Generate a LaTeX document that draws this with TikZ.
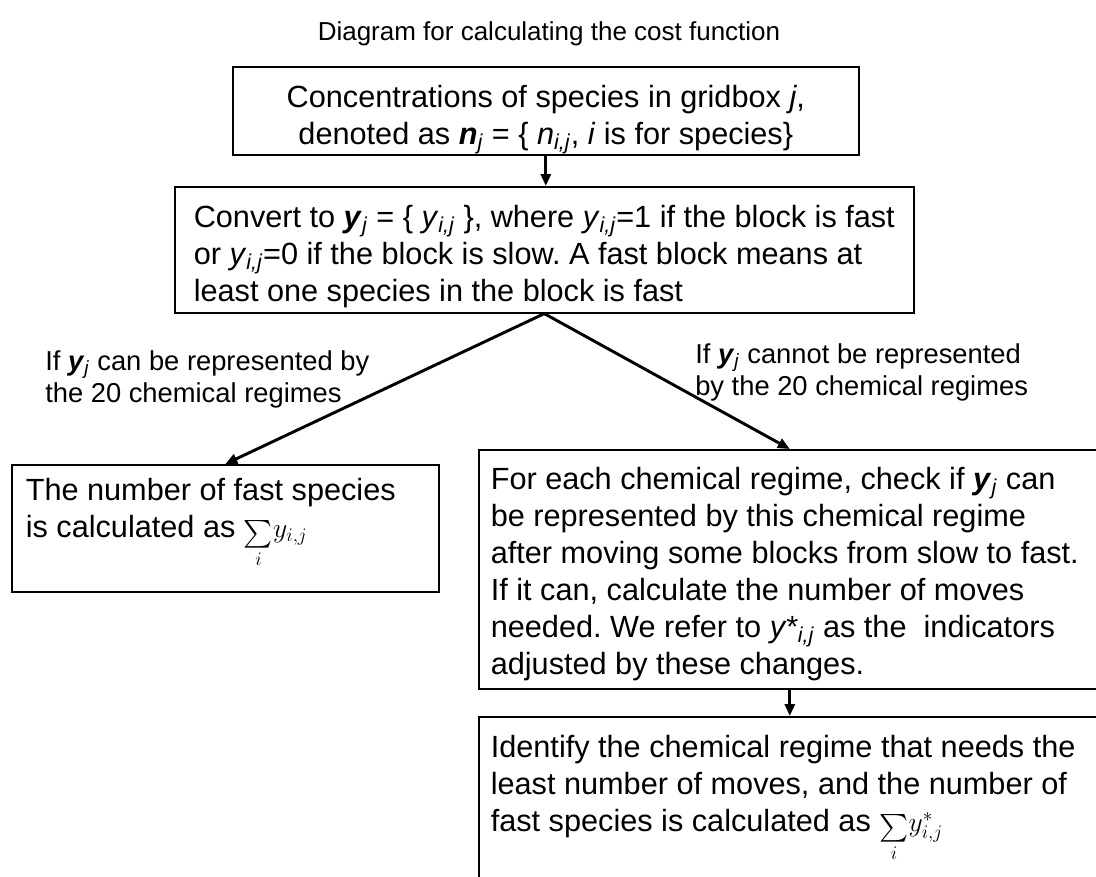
\documentclass[tikz,border=0pt]{standalone}
\usepackage{amsmath}
\usepackage{fontspec}
\setmainfont{Liberation Sans}
\usetikzlibrary{arrows.meta}
\frenchspacing

% bold vector with index j, and an element with indices i,j
\newcommand{\bvec}[1]{\textbf{\textit{#1}}\textsubscript{\textit{j}}}
\newcommand{\elem}[1]{\textit{#1}\textsubscript{\textit{i,j}}}
\newcommand{\sumover}[1]{{\fontsize{20}{20}\selectfont\raisebox{-3pt}{$\sum\limits_{i}$}$#1$}}

\begin{document}
\begin{tikzpicture}[x=0.75pt, y=-0.75pt,
  panel/.style={draw, line width=1.2pt, anchor=north west, font=\fontsize{23}{27.75}\selectfont},
  note/.style={align=left, inner sep=0pt, font=\fontsize{20.5}{24}\selectfont},
  link/.style={line width=2.2pt, -{Triangle[length=9pt,width=7.5pt]}}]
\clip (0,0) rectangle (1096,876);

\node[font=\fontsize{19.5}{24}\selectfont] (title) at (549,34) {Diagram for calculating the cost function};

\node[panel, inner xsep=7.5pt, inner ysep=13.5pt] (conc) at (232,66)
  {\parbox[c][39pt][t]{454.5pt}{\centering
   Concentrations of species in gridbox \textit{j},\\
   denoted as \bvec{n} = \{ \elem{n}, \textit{i} is for species\}}};

\node[panel, inner xsep=14.25pt, inner ysep=13.5pt] (conv) at (174,186)
  {\parbox[c][67.5pt][t]{525.75pt}{\raggedright
   Convert to \bvec{y} = \{ \elem{y} \}, where \elem{y}=1 if the block is fast\\
   or \elem{y}=0 if the block is slow. A fast block means at\\
   least one species in the block is fast}};

% the two branches
\node[panel, inner xsep=10.5pt, inner ysep=9.75pt] (plain) at (11,464)
  {\parbox[c][75.75pt][t]{299.25pt}{\raggedright
   The number of fast species\\
   is calculated as \sumover{y_{i,j}}}};

\node[panel, inner xsep=9pt, inner ysep=12.75pt] (check) at (478,449)
  {\parbox[c][153.75pt][t]{448.5pt}{\raggedright
   For each chemical regime, check if \bvec{y} can\\
   be represented by this chemical regime\\
   after moving some blocks from slow to fast.\\
   If it can, calculate the number of moves\\
   needed. We refer to \textit{y*}\textsubscript{\textit{i,j}} as the~ indicators\\
   adjusted by these changes.}};

\node[panel, inner xsep=9pt, inner ysep=13.5pt] (least) at (478,716)
  {\parbox[c][123pt][t]{448.5pt}{\raggedright
   Identify the chemical regime that needs the\\
   least number of moves, and the number of\\
   fast species is calculated as \sumover{y^{*}_{i,j}}}};

\node[note, anchor=west] (canrep) at (45,379) {If \bvec{y} can be represented by\\the 20 chemical regimes};
\node[note, anchor=west] (cannot) at (695,372) {If \bvec{y} cannot be represented\\by the 20 chemical regimes};

\draw[link] (conc.south) -- (conc.south |- conv.north);
\draw[link] (conv.south) -- (plain.north);
\draw[link] (conv.south) -- (check.north);
\draw[link] (check.south) -- (least.north);

\end{tikzpicture}
\end{document}
